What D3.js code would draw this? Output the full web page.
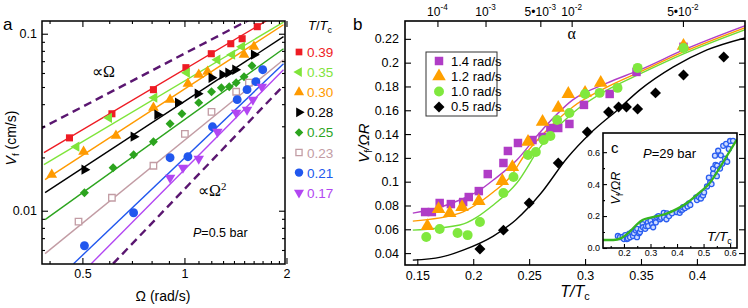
<!DOCTYPE html>
<html>
<head>
<meta charset="utf-8">
<script src="https://cdn.jsdelivr.net/npm/d3@7"></script>
<style>
body { margin: 0; background: #fff; }
svg { display: block; }
</style>
</head>
<body>
<svg id="chart" width="748" height="308"></svg>
<script>
// ---- DATA ---- //

// panel a: V_f vs Omega, one row per T/Tc
const tempsA = ["0.39", "0.35", "0.30", "0.28", "0.25", "0.23", "0.21", "0.17"];
const omegaA = [
    [0.458, 0.611, 0.810, 1.01, 1.20, 1.37, 1.48, 1.64],
    [0.480, 0.599, 0.815, 1.017, 1.251, 1.383, 1.479],
    [0.406, 0.504, 0.628, 0.810, 0.907, 1.024, 1.102, 1.170, 1.499, 1.603],
    [0.507, 0.708, 0.832, 0.957, 1.094, 1.202, 1.294, 1.347, 1.412, 1.603],
    [0.507, 0.616, 0.708, 0.810, 0.907, 0.983, 1.102, 1.202, 1.285, 1.356, 1.421, 1.499, 1.582],
    [0.487, 0.611, 0.810, 1.003, 1.202, 1.421, 1.550],
    [0.507, 0.708, 0.907, 1.024, 1.210, 1.431, 1.530, 1.625, 1.702],
    [0.907, 0.990, 1.102, 1.251, 1.421, 1.530, 1.592, 1.691]
];
const vfA = [
    [0.0258, 0.0353, 0.0483, 0.0643, 0.0771, 0.0878, 0.0937, 0.1096],
    [0.0230, 0.0335, 0.0435, 0.0602, 0.0713, 0.0761, 0.0845],
    [0.01597, 0.02154, 0.02653, 0.0382, 0.0424, 0.0522, 0.0587, 0.0610, 0.0761, 0.0845],
    [0.01705, 0.02619, 0.0349, 0.0408, 0.0458, 0.0564, 0.0587, 0.0602, 0.0626, 0.0761],
    [0.01264, 0.01749, 0.02072, 0.02454, 0.0310, 0.0353, 0.0408, 0.0470, 0.0495, 0.0502, 0.0529, 0.0572, 0.0659],
    [0.00867, 0.01184, 0.01795, 0.0272, 0.0362, 0.0470, 0.0529],
    [0.00634, 0.00974, 0.01993, 0.02019, 0.0298, 0.0424, 0.0483, 0.0536, 0.0626],
    [0.01536, 0.01749, 0.01967, 0.0279, 0.0358, 0.0372, 0.0424, 0.0502]
];
// fit lines: [omega0, v0, omega1, v1]
const fitA = [
    [0.385, 0.0213, 1.96, 0.135],
    [0.385, 0.0182, 1.96, 0.1163],
    [0.388, 0.01497, 1.96, 0.1124],
    [0.388, 0.01264, 1.96, 0.0962],
    [0.388, 0.00890, 1.96, 0.0823],
    [0.388, 0.00572, 1.96, 0.0713],
    [0.471, 0.00502, 1.96, 0.0677],
    [0.531, 0.00502, 1.96, 0.0626]
];
const guideA = [
    [0.37, 0.0286, 1.62, 0.125],   // ~ Omega
    [0.616, 0.00502, 1.96, 0.0509] // ~ Omega^2
];
const xTicksA = [0.5, 1, 2];
const xMinorA = [0.4, 0.6, 0.7, 0.8, 0.9, 1.1, 1.2, 1.3, 1.4, 1.5, 1.6, 1.7, 1.8, 1.9];
const yTicksA = [0.01, 0.1];
const yMinorA = [0.006, 0.007, 0.008, 0.009, 0.02, 0.03, 0.04, 0.05, 0.06, 0.07, 0.08, 0.09];

// panel b: V_f / Omega R vs T/Tc
const ratesB = ["1.4 rad/s", "1.2 rad/s", "1.0 rad/s", "0.5 rad/s"];
const tB = [
    [0.157, 0.163, 0.170, 0.180, 0.191, 0.196, 0.205, 0.213, 0.227, 0.231, 0.240, 0.253, 0.262, 0.269, 0.276, 0.286, 0.299, 0.322, 0.346, 0.388],
    [0.159, 0.169, 0.179, 0.190, 0.205, 0.226, 0.235, 0.249, 0.262, 0.276, 0.285, 0.300, 0.314, 0.388],
    [0.158, 0.170, 0.186, 0.195, 0.206, 0.227, 0.236, 0.249, 0.256, 0.263, 0.269, 0.275, 0.286, 0.300, 0.313, 0.329, 0.347, 0.388],
    [0.206, 0.227, 0.250, 0.276, 0.302, 0.321, 0.330, 0.337, 0.347, 0.363, 0.388, 0.424]
];
const vB = [
    [0.0745, 0.0745, 0.0821, 0.0812, 0.0829, 0.0871, 0.0921, 0.1064, 0.1157, 0.1258, 0.1325, 0.135, 0.1376, 0.1451, 0.1451, 0.1485, 0.1645, 0.1737, 0.1922, 0.2133],
    [0.0627, 0.0770, 0.0736, 0.0787, 0.0837, 0.1006, 0.1123, 0.1334, 0.1502, 0.1620, 0.1737, 0.1746, 0.1830, 0.2141],
    [0.0535, 0.0602, 0.0568, 0.0551, 0.0661, 0.0905, 0.1039, 0.1224, 0.1249, 0.1350, 0.1384, 0.1519, 0.1577, 0.1737, 0.1746, 0.1788, 0.1956, 0.2124],
    [0.0434, 0.0593, 0.0821, 0.1157, 0.1418, 0.1586, 0.1628, 0.1628, 0.1611, 0.1746, 0.1897, 0.2048]
];
const fitTB = [
    [0.146, 0.171, 0.188, 0.206, 0.218, 0.239, 0.260, 0.289, 0.320, 0.349, 0.388, 0.445],
    [0.146, 0.188, 0.218, 0.233, 0.246, 0.260, 0.289, 0.320, 0.349, 0.388, 0.445],
    [0.146, 0.188, 0.218, 0.239, 0.260, 0.289, 0.320, 0.349, 0.388, 0.445],
    [0.146, 0.171, 0.191, 0.218, 0.238, 0.260, 0.284, 0.305, 0.329, 0.349, 0.379, 0.409, 0.443]
];
const fitVB = [
    [0.0736, 0.0787, 0.0846, 0.0930, 0.1014, 0.1182, 0.1418, 0.1687, 0.1830, 0.1939, 0.2107, 0.2318],
    [0.0669, 0.0736, 0.0913, 0.1039, 0.1224, 0.1376, 0.1628, 0.1796, 0.1922, 0.2090, 0.2301],
    [0.0593, 0.0636, 0.0804, 0.0989, 0.1292, 0.1577, 0.1771, 0.1905, 0.2074, 0.2284],
    [0.0341, 0.0366, 0.0425, 0.0543, 0.0678, 0.0896, 0.1199, 0.1409, 0.1603, 0.1771, 0.1964, 0.2107, 0.2208]
];
const xTicksB = [0.15, 0.2, 0.25, 0.3, 0.35, 0.4];
const yTicksB = [0.04, 0.06, 0.08, 0.1, 0.12, 0.14, 0.16, 0.18, 0.2, 0.22];
// top axis: alpha at these T/Tc
const alphaPos = [0.168, 0.211, 0.260, 0.288, 0.3875];
const alphaBase = ["10", "10", "5\u202210", "10", "5\u202210"];
const alphaExp = ["-4", "-3", "-3", "-2", "-2"];

// inset c: P = 29 bar
const insetT = [0.177, 0.185, 0.195, 0.200, 0.205, 0.211, 0.215, 0.220, 0.223, 0.230, 0.234, 0.238, 0.245, 0.249, 0.250,
    0.257, 0.260, 0.264, 0.270, 0.272, 0.280, 0.283, 0.290, 0.291, 0.300, 0.306, 0.310, 0.317, 0.320, 0.325, 0.330,
    0.336, 0.340, 0.350, 0.351, 0.360, 0.362, 0.370, 0.381, 0.400, 0.410, 0.415, 0.420, 0.423, 0.430, 0.438, 0.440,
    0.445, 0.450, 0.472, 0.475, 0.483, 0.490, 0.498, 0.502, 0.513, 0.520, 0.525, 0.530, 0.536, 0.536, 0.543, 0.545,
    0.550, 0.551, 0.555, 0.562, 0.565, 0.570, 0.574, 0.581, 0.585, 0.589, 0.595, 0.600, 0.611];
const insetV = [0.075, 0.068, 0.070, 0.056, 0.080, 0.056, 0.060, 0.090, 0.068, 0.100, 0.075, 0.093, 0.110, 0.068, 0.120,
    0.093, 0.100, 0.118, 0.150, 0.130, 0.120, 0.137, 0.160, 0.137, 0.170, 0.149, 0.130, 0.168, 0.160, 0.193, 0.200,
    0.180, 0.190, 0.220, 0.193, 0.180, 0.217, 0.200, 0.217, 0.224, 0.220, 0.236, 0.240, 0.255, 0.250, 0.267, 0.260,
    0.280, 0.270, 0.317, 0.300, 0.317, 0.310, 0.329, 0.348, 0.385, 0.440, 0.410, 0.400, 0.466, 0.497, 0.578, 0.520,
    0.450, 0.516, 0.609, 0.497, 0.580, 0.528, 0.640, 0.559, 0.652, 0.540, 0.620, 0.670, 0.671];
const insetFitT = [0.121, 0.160, 0.190, 0.220, 0.250, 0.270, 0.300, 0.340, 0.360, 0.400, 0.440, 0.490, 0.520, 0.560, 0.600, 0.626];
const insetFitV = [0.050, 0.050, 0.062, 0.100, 0.150, 0.175, 0.190, 0.205, 0.215, 0.245, 0.285, 0.355, 0.400, 0.500, 0.610, 0.680];
const xTicksC = [0.2, 0.3, 0.4, 0.5, 0.6];
const yTicksC = [0, 0.2, 0.4, 0.6];

// ---- STYLE ---- //

const svg = d3.select("#chart");
const FONT = '"Liberation Sans", Arial, sans-serif';
const SERIF = '"Liberation Serif", "Times New Roman", serif';

const colorsA = ["#ee1c24", "#7fe43a", "#ff9a00", "#000000", "#2ca41e", "#c29ca4", "#2157ee", "#b246f2"];
const shapesA = ["square", "left", "up", "right", "diamond", "opensquare", "circle", "down"];
const sizesA = [50, 46, 50, 46, 40, 42, 62, 48];
const colorsB = ["#b03cc6", "#ffa000", "#80e83e", "#000000"];
const lineColB = ["#b13ec6", "#ff9a00", "#6edc36", "#000000"];
const shapesB = ["square", "up", "circle", "diamond"];
const sizesB = [72, 80, 78, 60];

const boxA = {L: 42, R: 285, T: 21, B: 264};
const boxB = {L: 405, R: 745, T: 21, B: 265};
const boxC = {L: 603, R: 737, T: 133, B: 248};

const xA = d3.scaleLog().domain([0.38, 1.98]).range([boxA.L, boxA.R]);
const yA = d3.scaleLog().domain([0.005, 0.118]).range([boxA.B, boxA.T]);
const xB = d3.scaleLinear().domain([0.139, 0.443]).range([boxB.L, boxB.R]);
const yB = d3.scaleLinear().domain([0.030, 0.235]).range([boxB.B, boxB.T]);
const xC = d3.scaleLinear().domain([0.121, 0.626]).range([boxC.L, boxC.R]);
const yC = d3.scaleLinear().domain([0, 0.72]).range([boxC.B, boxC.T]);

// ---- HELPERS ---- //

function axis(fn, scale, vals, size, fmt, tx, ty, fs, pad) {
    const ax = fn(scale)
        .tickValues(vals)
        .tickSizeInner(size)
        .tickSizeOuter(0)
        .tickPadding(pad === undefined ? 4 : pad)
        .tickFormat(fmt ? fmt : () => "");
    const g = svg.append("g")
        .attr("transform", `translate(${tx},${ty})`)
        .call(ax)
        .attr("font-family", FONT)
        .attr("font-size", fs || 12.5);
    g.select(".domain").remove();
    g.selectAll(".tick line").attr("stroke", "#000").attr("stroke-width", 1.1);
    g.selectAll(".tick text").attr("fill", "#000");
    return g;
}

function symbolOf(kind, size) {
    let type = d3.symbolSquare, rot = 0;
    if (kind === "circle") type = d3.symbolCircle;
    if (["up", "down", "left", "right"].includes(kind)) type = d3.symbolTriangle;
    if (kind === "down") rot = 180;
    if (kind === "left") rot = -90;
    if (kind === "right") rot = 90;
    if (kind === "diamond") rot = 45;
    return {path: d3.symbol().type(type).size(size)(), rot: rot};
}

function drawMarks(g, pts, x, y, kind, size, color) {
    const s = symbolOf(kind, size);
    const open = kind === "opensquare";
    g.selectAll(null)
        .data(pts)
        .join("path")
            .attr("d", s.path)
            .attr("transform", d => `translate(${x(d[0])},${y(d[1])}) rotate(${s.rot})`)
            .attr("fill", open ? "#fff" : color)
            .attr("stroke", open ? color : "none")
            .attr("stroke-width", open ? 1.3 : 0);
}

function frame(box, sw) {
    svg.append("rect")
        .attr("x", box.L).attr("y", box.T)
        .attr("width", box.R - box.L).attr("height", box.B - box.T)
        .attr("fill", "none").attr("stroke", "#000").attr("stroke-width", sw);
}

function clip(id, box) {
    svg.append("clipPath").attr("id", id)
        .append("rect")
        .attr("x", box.L).attr("y", box.T)
        .attr("width", box.R - box.L).attr("height", box.B - box.T);
}

function label(x, y, parts, opts) {
    // parts: [text, "i"|"n", "sub"|"sup"|""]
    const t = svg.append("text")
        .attr("x", x).attr("y", y)
        .attr("font-family", opts.family || FONT)
        .attr("font-size", opts.size)
        .attr("fill", opts.color || "#000")
        .attr("text-anchor", opts.anchor || "start");
    if (opts.rotate) t.attr("transform", `rotate(${opts.rotate},${x},${y})`);
    let shift = 0;
    parts.forEach(p => {
        let dy = 0;
        const want = p[2] === "sub" ? 3 : p[2] === "sup" ? -6 : 0;
        dy = want - shift;
        shift = want;
        t.append("tspan")
            .attr("dy", dy)
            .attr("font-style", p[1] === "i" ? "italic" : "normal")
            .attr("font-size", p[2] ? opts.size * 0.68 : opts.size)
            .text(p[0]);
    });
    return t;
}

clip("clipA", boxA);
clip("clipB", boxB);
clip("clipC", boxC);

// ----- PANEL A ----- //

const gA = svg.append("g").attr("clip-path", "url(#clipA)");
const lineA = d3.line().x(d => xA(d[0])).y(d => yA(d[1]));

guideA.forEach(f => {
    gA.append("path")
        .attr("d", lineA([[f[0], f[1]], [f[2], f[3]]]))
        .attr("stroke", "#5a1670")
        .attr("stroke-width", 2.4)
        .attr("stroke-dasharray", "8,5")
        .attr("fill", "none");
});

tempsA.forEach((t, i) => {
    const f = fitA[i];
    gA.append("path")
        .attr("d", lineA([[f[0], f[1]], [f[2], f[3]]]))
        .attr("stroke", colorsA[i])
        .attr("stroke-width", 1.4)
        .attr("fill", "none");
});
tempsA.forEach((t, i) => {
    drawMarks(svg.append("g"), d3.zip(omegaA[i], vfA[i]), xA, yA, shapesA[i], sizesA[i], colorsA[i]);
});

const logFmt = d => d >= 1 ? String(d) : String(d);
axis(d3.axisBottom, xA, xTicksA, -6, logFmt, 0, boxA.B, 12.5, 5);
axis(d3.axisBottom, xA, xMinorA, -3, null, 0, boxA.B);
axis(d3.axisTop, xA, xTicksA, -6, null, 0, boxA.T);
axis(d3.axisTop, xA, xMinorA, -3, null, 0, boxA.T);
axis(d3.axisLeft, yA, yTicksA, -6, logFmt, boxA.L, 0, 12.5, 5);
axis(d3.axisLeft, yA, yMinorA, -3, null, boxA.L, 0);
axis(d3.axisRight, yA, yTicksA, -6, null, boxA.R, 0);
axis(d3.axisRight, yA, yMinorA, -3, null, boxA.R, 0);
frame(boxA, 1.5);

label(3, 30, [["a", "n", ""]], {size: 17});
label(16, 138, [["V", "i", ""], ["f", "n", "sub"], [" (cm/s)", "n", ""]], {size: 14, anchor: "middle", rotate: -90});
label(163, 301, [["\u03A9 (rad/s)", "n", ""]], {size: 14, anchor: "middle"});
label(92, 77, [["\u221D\u03A9", "n", ""]], {size: 16, family: SERIF});
label(198, 196, [["\u221D\u03A9", "n", ""], ["2", "n", "sup"]], {size: 16, family: SERIF});
label(193, 237, [["P", "i", ""], ["=0.5 bar", "n", ""]], {size: 12.5});

// legend a
label(308, 30, [["T", "i", ""], ["/", "n", ""], ["T", "i", ""], ["c", "n", "sub"]], {size: 13});
tempsA.forEach((t, i) => {
    const y = 52 + i * 20.1;
    drawMarks(svg.append("g"), [[0, 0]], () => 299, () => y, shapesA[i], sizesA[i] * 0.9, colorsA[i]);
    label(307, y + 5, [[t, "n", ""]], {size: 13.5, color: colorsA[i]});
});

// ----- PANEL B ----- //

const gB = svg.append("g").attr("clip-path", "url(#clipB)");
const lineB = d3.line().x(d => xB(d[0])).y(d => yB(d[1])).curve(d3.curveMonotoneX);

ratesB.forEach((r, i) => {
    gB.append("path")
        .attr("d", lineB(d3.zip(fitTB[i], fitVB[i])))
        .attr("stroke", lineColB[i])
        .attr("stroke-width", 1.4)
        .attr("fill", "none");
});
[3, 0, 1, 2].forEach(i => {
    drawMarks(svg.append("g"), d3.zip(tB[i], vB[i]), xB, yB, shapesB[i], sizesB[i], colorsB[i]);
});

const fmtB = d => String(d);
axis(d3.axisBottom, xB, xTicksB, -6, fmtB, 0, boxB.B, 12.5, 6);
axis(d3.axisLeft, yB, yTicksB, -6, fmtB, boxB.L, 0, 12.5, 6);
axis(d3.axisRight, yB, yTicksB, -6, null, boxB.R, 0);
axis(d3.axisTop, xB, alphaPos, -6, null, 0, boxB.T);
frame(boxB, 1.6);

alphaPos.forEach((a, i) => {
    label(xB(a), 16, [[alphaBase[i], "n", ""], [alphaExp[i], "n", "sup"]], {size: 12, anchor: "middle"});
});
label(xB(0.288), 39, [["\u03B1", "n", ""]], {size: 16, family: SERIF, anchor: "middle"});

label(353, 30, [["b", "n", ""]], {size: 17});
label(369, 143, [["V", "i", ""], ["f", "n", "sub"], ["/\u03A9", "i", ""], ["R", "i", ""]], {size: 15, anchor: "middle", rotate: -90});
label(575, 297, [["T", "i", ""], ["/", "i", ""], ["T", "i", ""], ["c", "n", "sub"]], {size: 16, anchor: "middle"});

// legend b
svg.append("rect")
    .attr("x", 426).attr("y", 52).attr("width", 71).attr("height", 64)
    .attr("fill", "#fff").attr("stroke", "#333").attr("stroke-width", 1);
ratesB.forEach((r, i) => {
    const y = 61 + i * 15.3;
    drawMarks(svg.append("g"), [[0, 0]], () => 439, () => y, shapesB[i], sizesB[i], colorsB[i]);
    label(451, y + 4.5, [[r, "n", ""]], {size: 13});
});

// ----- INSET C ----- //

svg.append("rect")
    .attr("x", boxC.L).attr("y", boxC.T)
    .attr("width", boxC.R - boxC.L).attr("height", boxC.B - boxC.T)
    .attr("fill", "#fff");

const gC = svg.append("g").attr("clip-path", "url(#clipC)");
gC.selectAll(null)
    .data(d3.zip(insetT, insetV))
    .join("circle")
        .attr("cx", d => xC(d[0]))
        .attr("cy", d => yC(d[1]))
        .attr("r", 2.5)
        .attr("fill", "#cfdcff")
        .attr("stroke", "#2a5df0")
        .attr("stroke-width", 1.3);
gC.append("path")
    .attr("d", d3.line().x(d => xC(d[0])).y(d => yC(d[1])).curve(d3.curveMonotoneX)(d3.zip(insetFitT, insetFitV)))
    .attr("stroke", "#36b51f")
    .attr("stroke-width", 2.3)
    .attr("fill", "none");

const fmtC = d => d.toFixed(1);
axis(d3.axisBottom, xC, xTicksC, -4, fmtC, 0, boxC.B, 9, 2);
axis(d3.axisBottom, xC, [0.15, 0.25, 0.35, 0.45, 0.55], -2, null, 0, boxC.B);
axis(d3.axisLeft, yC, yTicksC, -4, fmtC, boxC.L, 0, 9, 3);
axis(d3.axisLeft, yC, [0.1, 0.3, 0.5], -2, null, boxC.L, 0);
frame(boxC, 1.6);

label(611, 153, [["c", "n", ""]], {size: 15});
label(643, 158, [["P", "i", ""], ["=29 bar", "n", ""]], {size: 13});
label(620, 188, [["V", "i", ""], ["f", "n", "sub"], ["/\u03A9", "i", ""], ["R", "i", ""]], {size: 12.5, anchor: "middle", rotate: -90});
label(707, 241, [["T", "i", ""], ["/", "i", ""], ["T", "i", ""], ["c", "n", "sub"]], {size: 13.5});
</script>
</body>
</html>
